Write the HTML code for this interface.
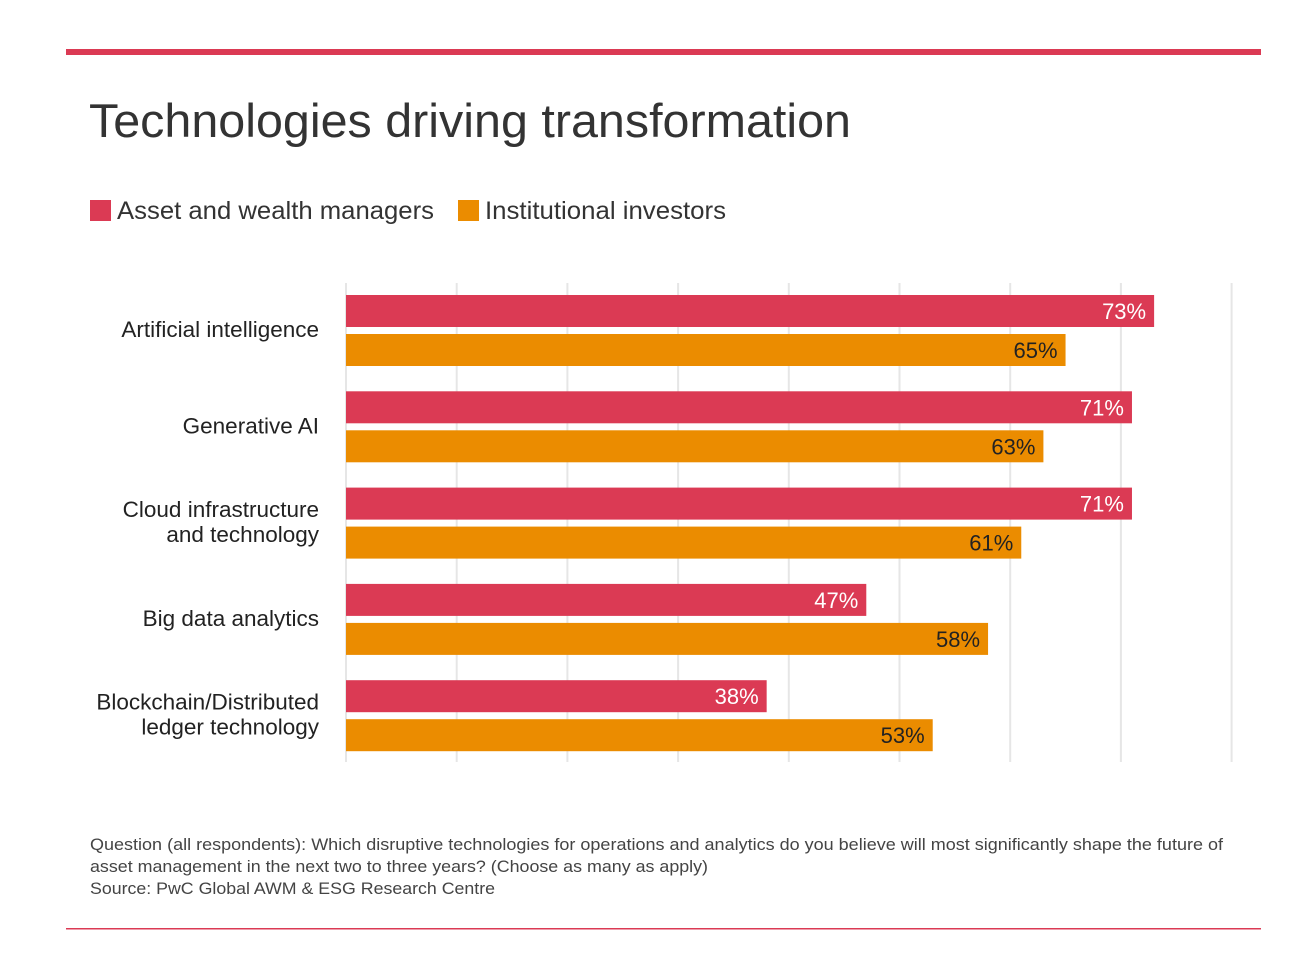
<!DOCTYPE html>
<html><head><meta charset="utf-8"><style>
body{margin:0;background:#fff;width:1292px;height:962px;overflow:hidden;font-family:"Liberation Sans",sans-serif;}
</style></head><body>
<svg width="1292" height="962" xmlns="http://www.w3.org/2000/svg" font-family="Liberation Sans, sans-serif">
<rect x="66" y="49" width="1195" height="6" fill="#db3a54"/>
<text x="89" y="137" font-size="47" fill="#333" textLength="762" lengthAdjust="spacingAndGlyphs">Technologies driving transformation</text>
<g>
<rect x="90" y="200" width="21" height="21" fill="#db3a54"/>
<text x="117" y="219" font-size="25" fill="#333" textLength="317" lengthAdjust="spacingAndGlyphs">Asset and wealth managers</text>
<rect x="458" y="200" width="21" height="21" fill="#eb8c00"/>
<text x="485" y="219" font-size="25" fill="#333" textLength="241" lengthAdjust="spacingAndGlyphs">Institutional investors</text>
</g>
<g id="grid"></g><g id="bars"></g><g id="labels"></g>
<text x="90" y="850" font-size="17" fill="#444" textLength="1133" lengthAdjust="spacingAndGlyphs">Question (all respondents): Which disruptive technologies for operations and analytics do you believe will most significantly shape the future of</text>
<text x="90" y="872" font-size="17" fill="#444" textLength="618" lengthAdjust="spacingAndGlyphs">asset management in the next two to three years? (Choose as many as apply)</text>
<text x="90" y="894" font-size="17" fill="#444" textLength="405" lengthAdjust="spacingAndGlyphs">Source: PwC Global AWM &amp; ESG Research Centre</text>
<rect x="66" y="928" width="1195" height="1.5" fill="#db3a54"/>
</svg>
<script>
const categories=[["Artificial intelligence"],["Generative AI"],["Cloud infrastructure","and technology"],["Big data analytics"],["Blockchain/Distributed","ledger technology"]];
const managers=[73,71,71,47,38];
const investors=[65,63,61,58,53];
const ticks=[0,10,20,30,40,50,60,70,80];
const NS="http://www.w3.org/2000/svg";
const x=v=>346+v*11.07;
function mk(t,a,p){const e=document.createElementNS(NS,t);for(const k in a)e.setAttribute(k,a[k]);p.appendChild(e);return e;}
const grid=document.getElementById('grid'),bars=document.getElementById('bars'),labels=document.getElementById('labels');
ticks.forEach(t=>{const l=mk('line',{x1:x(t),x2:x(t),y1:283,y2:762,stroke:'#e6e6e6','stroke-width':2},grid);

});
categories.forEach((c,i)=>{
 const y0=295+i*96.3;
 [[managers[i],'#db3a54','#fff','bar-managers'],[investors[i],'#eb8c00','#222','bar-investors']].forEach((s,j)=>{
  const y=y0+j*39;
  const r=mk('rect',{x:346,y:y,width:x(s[0])-346,height:32,fill:s[1]},bars);
  
  
  const t=mk('text',{x:x(s[0])-8,y:y+24,'text-anchor':'end','font-size':22,fill:s[2]},bars);
  t.textContent=s[0]+'%';
  
  
 });
 const cy=y0+35;
 c.forEach((line,k)=>{
  const t=mk('text',{x:319,y:cy+7+(k-(c.length-1)/2)*25,'text-anchor':'end','font-size':22.5,fill:'#222'},labels);
  t.textContent=line;
  
  
 });
});
</script>
</body></html>
